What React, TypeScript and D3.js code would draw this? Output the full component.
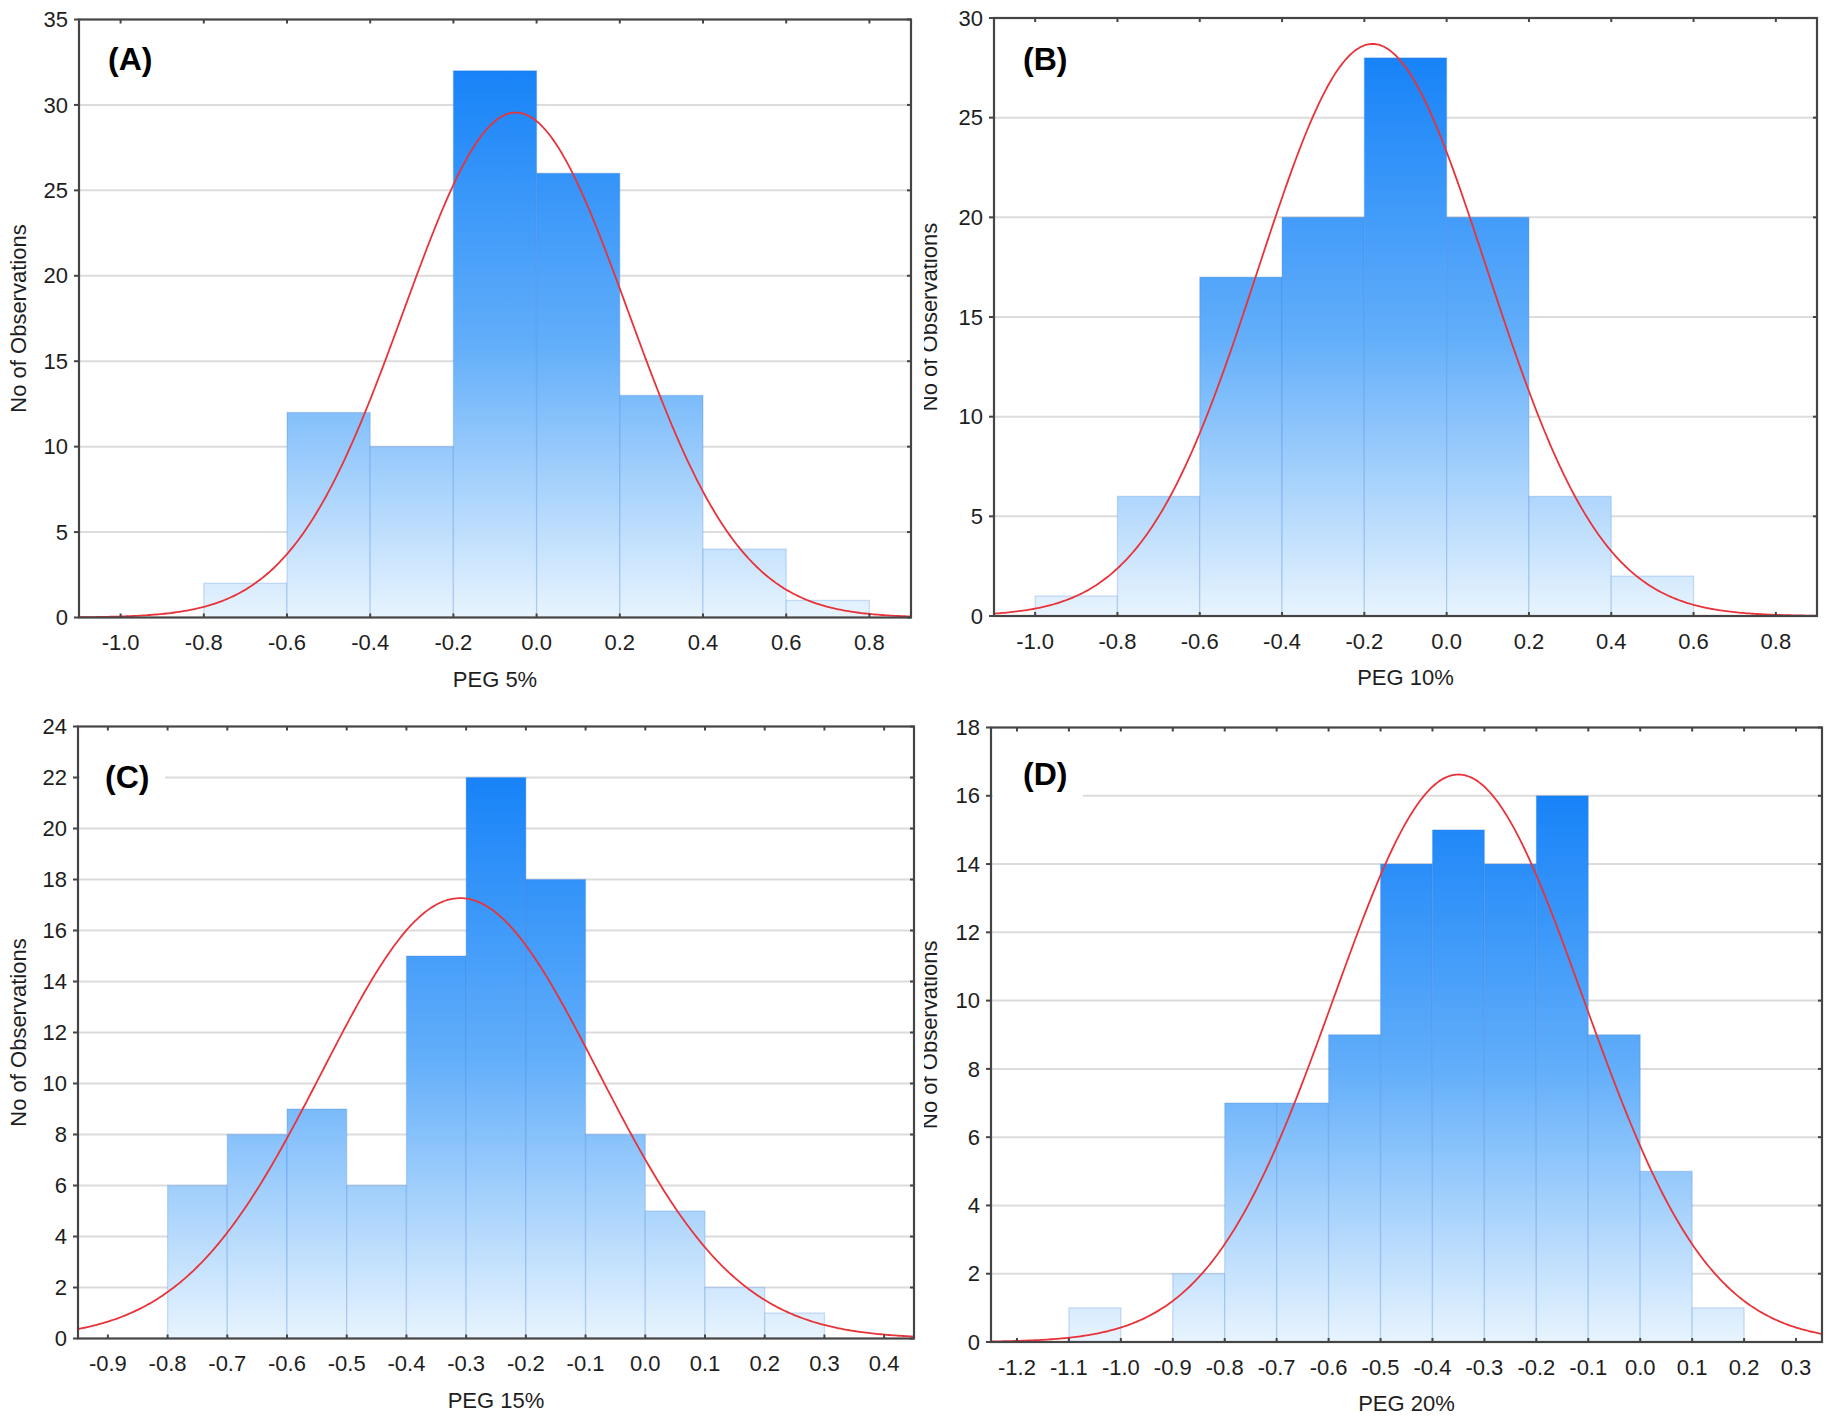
import React from "react";
import * as d3 from "d3";

// ---------- data ----------
const binStartsA = [-0.8, -0.6, -0.4, -0.2, 0.0, 0.2, 0.4, 0.6];
const countsA = [2, 12, 10, 32, 26, 13, 4, 1];
const binStartsB = [-1.0, -0.8, -0.6, -0.4, -0.2, 0.0, 0.2, 0.4];
const countsB = [1, 6, 17, 20, 28, 20, 6, 2];
const binStartsC = [-0.8, -0.7, -0.6, -0.5, -0.4, -0.3, -0.2, -0.1, 0.0, 0.1, 0.2];
const countsC = [6, 8, 9, 6, 15, 22, 18, 8, 5, 2, 1];
const binStartsD = [-1.1, -1.0, -0.9, -0.8, -0.7, -0.6, -0.5, -0.4, -0.3, -0.2, -0.1, 0.0, 0.1];
const countsD = [1, 0, 2, 7, 7, 9, 14, 15, 14, 16, 9, 5, 1];

// fitted normal curves (mean, sd), N = 100 observations
const fitA = { mean: -0.05, sd: 0.27 };
const fitB = { mean: -0.18, sd: 0.278 };
const fitC = { mean: -0.31, sd: 0.231 };
const fitD = { mean: -0.35, sd: 0.24 };
const nObs = 100;

const xTicksAB = [-1.0, -0.8, -0.6, -0.4, -0.2, 0.0, 0.2, 0.4, 0.6, 0.8];
const xTicksC = [-0.9, -0.8, -0.7, -0.6, -0.5, -0.4, -0.3, -0.2, -0.1, 0.0, 0.1, 0.2, 0.3, 0.4];
const xTicksD = [-1.2, -1.1, -1.0, -0.9, -0.8, -0.7, -0.6, -0.5, -0.4, -0.3, -0.2, -0.1, 0.0, 0.1, 0.2, 0.3];
const yTicksA = [0, 5, 10, 15, 20, 25, 30, 35];
const yTicksB = [0, 5, 10, 15, 20, 25, 30];
const yTicksC = [0, 2, 4, 6, 8, 10, 12, 14, 16, 18, 20, 22, 24];
const yTicksD = [0, 2, 4, 6, 8, 10, 12, 14, 16, 18];

const FONT = "'Liberation Sans', Arial, Helvetica, sans-serif";

type PanelProps = {
  id: string;
  left: number;
  right: number;
  top: number;
  bottom: number;
  xDomain: [number, number];
  xTicks: number[];
  yTicks: number[];
  binStarts: number[];
  counts: number[];
  binWidth: number;
  fit: { mean: number; sd: number };
  label: string;
  labelDx: number;
  labelDy: number;
  xTitle: string;
  yTitleX: number;
  yTitleClip?: number;
};

function Panel(p: PanelProps) {
  const x = d3.scaleLinear().domain(p.xDomain).range([p.left, p.right]);
  const yMax = p.yTicks[p.yTicks.length - 1];
  const y = d3.scaleLinear().domain([0, yMax]).range([p.bottom, p.top]);
  const maxCount = d3.max(p.counts) as number;

  const npts = 400;
  const curvePts: [number, number][] = d3.range(npts + 1).map((i) => {
    const xv = p.xDomain[0] + ((p.xDomain[1] - p.xDomain[0]) * i) / npts;
    const z = (xv - p.fit.mean) / p.fit.sd;
    const yv = (nObs * p.binWidth * Math.exp(-0.5 * z * z)) / (p.fit.sd * Math.sqrt(2 * Math.PI));
    return [x(xv), y(yv)];
  });
  const line = d3.line()(curvePts) as string;

  const gradId = `grad-${p.id}`;
  const clipId = `clip-${p.id}`;
  const yClipId = `yclip-${p.id}`;
  const cy = (p.top + p.bottom) / 2;
  const lx = p.left + p.labelDx;
  const ly = p.top + p.labelDy;

  return (
    <g>
      <defs>
        <linearGradient id={gradId} gradientUnits="userSpaceOnUse" x1={0} x2={0} y1={y(maxCount)} y2={y(0)}>
          <stop offset="0" stopColor="#1783f8" />
          <stop offset="0.5" stopColor="#62aefa" />
          <stop offset="1" stopColor="#e8f4fe" />
        </linearGradient>
        <clipPath id={clipId}>
          <rect x={p.left} y={p.top} width={p.right - p.left} height={p.bottom - p.top} />
        </clipPath>
        {p.yTitleClip !== undefined && (
          <clipPath id={yClipId}>
            <rect x={p.yTitleClip} y={0} width={200} height={1422} />
          </clipPath>
        )}
      </defs>

      {/* gridlines */}
      {p.yTicks.slice(1, -1).map((t) => (
        <line key={`g${t}`} x1={p.left} x2={p.right} y1={y(t)} y2={y(t)} stroke="#dcdcdc" strokeWidth={2} />
      ))}

      {/* label background box */}
      <rect x={p.left + 2} y={ly - 34} width={p.labelDx + 58} height={50} fill="#ffffff" />

      {/* bars */}
      <g clipPath={`url(#${clipId})`}>
        {p.binStarts.map((b, i) =>
          p.counts[i] > 0 ? (
            <rect
              key={`b${i}`}
              x={x(b)}
              y={y(p.counts[i])}
              width={x(b + p.binWidth) - x(b)}
              height={y(0) - y(p.counts[i])}
              fill={`url(#${gradId})`}
              stroke="#2f74d0"
              strokeOpacity={0.22}
              strokeWidth={1.3}
            />
          ) : null
        )}
        <path d={line} fill="none" stroke="#e8333a" strokeWidth={1.8} />
      </g>

      {/* frame */}
      <rect x={p.left} y={p.top} width={p.right - p.left} height={p.bottom - p.top} fill="none" stroke="#454545" strokeWidth={2.2} />

      {/* x ticks + labels */}
      {p.xTicks.map((t) => (
        <g key={`x${t}`}>
          <line x1={x(t)} x2={x(t)} y1={p.bottom} y2={p.bottom - 4} stroke="#454545" strokeWidth={2} />
          <line x1={x(t)} x2={x(t)} y1={p.top} y2={p.top + 4} stroke="#454545" strokeWidth={2} />
          <text x={x(t)} y={p.bottom + 32.5} textAnchor="middle" fontFamily={FONT} fontSize={22} fill="#1e1e1e">
            {t.toFixed(1)}
          </text>
        </g>
      ))}

      {/* y ticks + labels */}
      {p.yTicks.map((t) => (
        <g key={`y${t}`}>
          <line x1={p.left} x2={p.left - 5} y1={y(t)} y2={y(t)} stroke="#454545" strokeWidth={2} />
          <line x1={p.right} x2={p.right - 4} y1={y(t)} y2={y(t)} stroke="#454545" strokeWidth={2} />
          <text x={p.left - 11} y={y(t)} dy="0.35em" textAnchor="end" fontFamily={FONT} fontSize={22} fill="#1e1e1e">
            {t}
          </text>
        </g>
      ))}

      {/* panel label */}
      <text x={lx} y={ly} fontFamily={FONT} fontWeight="bold" fontSize={32} fill="#000">
        {p.label}
      </text>

      {/* axis titles */}
      <text x={(p.left + p.right) / 2} y={p.bottom + 69} textAnchor="middle" fontFamily={FONT} fontSize={22} fill="#1e1e1e">
        {p.xTitle}
      </text>
      <g clipPath={p.yTitleClip !== undefined ? `url(#${yClipId})` : undefined}>
        <text
          transform={`translate(${p.yTitleX},${cy}) rotate(-90)`}
          textAnchor="middle"
          fontFamily={FONT}
          fontSize={22}
          fill="#1e1e1e"
        >
          No of Observations
        </text>
      </g>
    </g>
  );
}

export default function App() {
  return (
    <svg
      width={1831}
      height={1422}
      viewBox="0 0 1831 1422"
      style={{ position: "absolute", left: 0, top: 0, display: "block", background: "#ffffff" }}
    >
      <rect x={0} y={0} width={1831} height={1422} fill="#ffffff" />
      <Panel
        id="A" left={79} right={911} top={19.5} bottom={617.5}
        xDomain={[-1.1, 0.9]} xTicks={xTicksAB} yTicks={yTicksA}
        binStarts={binStartsA} counts={countsA} binWidth={0.2} fit={fitA}
        label="(A)" labelDx={29} labelDy={50} xTitle="PEG 5%" yTitleX={26}
      />
      <Panel
        id="B" left={994} right={1817} top={18} bottom={616}
        xDomain={[-1.1, 0.9]} xTicks={xTicksAB} yTicks={yTicksB}
        binStarts={binStartsB} counts={countsB} binWidth={0.2} fit={fitB}
        label="(B)" labelDx={29} labelDy={52} xTitle="PEG 10%" yTitleX={937} yTitleClip={924}
      />
      <Panel
        id="C" left={78} right={914} top={726.5} bottom={1338.5}
        xDomain={[-0.95, 0.45]} xTicks={xTicksC} yTicks={yTicksC}
        binStarts={binStartsC} counts={countsC} binWidth={0.1} fit={fitC}
        label="(C)" labelDx={27} labelDy={61} xTitle="PEG 15%" yTitleX={26}
      />
      <Panel
        id="D" left={991} right={1822} top={727.5} bottom={1342}
        xDomain={[-1.25, 0.35]} xTicks={xTicksD} yTicks={yTicksD}
        binStarts={binStartsD} counts={countsD} binWidth={0.1} fit={fitD}
        label="(D)" labelDx={32} labelDy={57} xTitle="PEG 20%" yTitleX={937} yTitleClip={924}
      />
    </svg>
  );
}
